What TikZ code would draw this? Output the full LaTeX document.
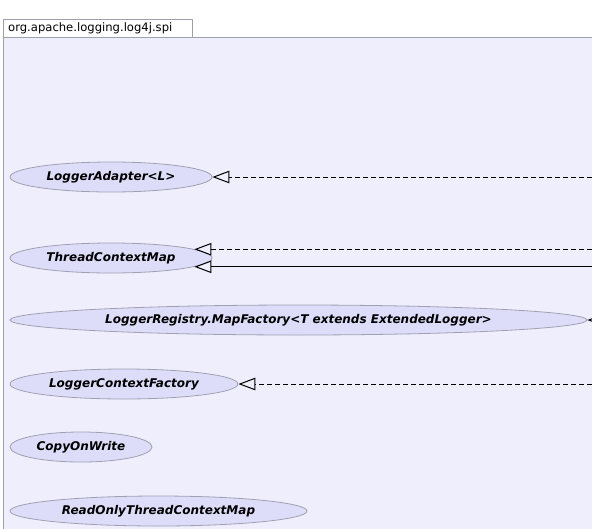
\documentclass[tikz,border=0pt]{standalone}
\usepackage{fontspec}
\setmainfont{DejaVu Sans}
\usetikzlibrary{shapes.geometric,arrows.meta}
\definecolor{bodyfill}{RGB}{238,238,252}
\definecolor{ellfill}{RGB}{221,221,250}
\definecolor{ellborder}{RGB}{160,160,178}
\definecolor{framecol}{RGB}{160,160,172}
\begin{document}
\begin{tikzpicture}[x=1pt,y=-1pt,
  framebox/.style={draw=framecol, line width=1pt},
  cls/.style={ellipse, draw=ellborder, fill=ellfill, line width=0.8pt, inner sep=0pt,
    minimum height=30pt, font=\fontsize{12}{14}\selectfont\bfseries\itshape},
  opentri/.style={-{Triangle[open, length=17pt, width=12.5pt, line width=1pt]}},
  dep/.style={opentri, line width=1pt, dash pattern=on 5pt off 3pt},
  inh/.style={opentri, line width=1pt}]
\useasboundingbox (0,0) rectangle (592,528);
\clip (0,0) rectangle (592,528);
\fill[white] (0,0) rectangle (592,528);
% package frame
\draw[framebox, fill=white] (3,19) rectangle (192,37);
\draw[framebox, fill=bodyfill] (3,37) rectangle (620,560);
\node[anchor=west, inner sep=0pt, font=\fontsize{11.6}{13}\selectfont] (pkg) at (8,28) {org.apache.logging.log4j.spi};
% classes
\node[cls, minimum width=202pt] (la) at (111,177) {LoggerAdapter<L>};
\node[cls, minimum width=202pt] (tcm) at (111,258) {ThreadContextMap};
\node[cls, minimum width=577pt] (lr) at (298.5,320) {LoggerRegistry.MapFactory<T extends ExtendedLogger>};
\node[cls, minimum width=228pt] (lcf) at (124,384) {LoggerContextFactory};
\node[cls, minimum width=142pt] (cow) at (81,447) {CopyOnWrite};
\node[cls, minimum width=297pt] (ro) at (158.5,511) {ReadOnlyThreadContextMap};
% off-picture ends
\coordinate (farR) at (640,0);
\coordinate (ra) at (la.east -| farR);
\coordinate (rtd) at (tcm.6 -| farR);
\coordinate (rts) at (tcm.-6 -| farR);
\coordinate (rlr) at (lr.east -| farR);
\coordinate (rlcf) at (lcf.east -| farR);
% connectors
\draw[dep] (ra) -- (la.east);
\draw[dep] (rtd) -- (tcm.6);
\draw[inh] (rts) -- (tcm.-6);
\draw[dep] (rlr) -- (lr.east);
\draw[dep] (rlcf) -- (lcf.east);
\end{tikzpicture}
\end{document}
